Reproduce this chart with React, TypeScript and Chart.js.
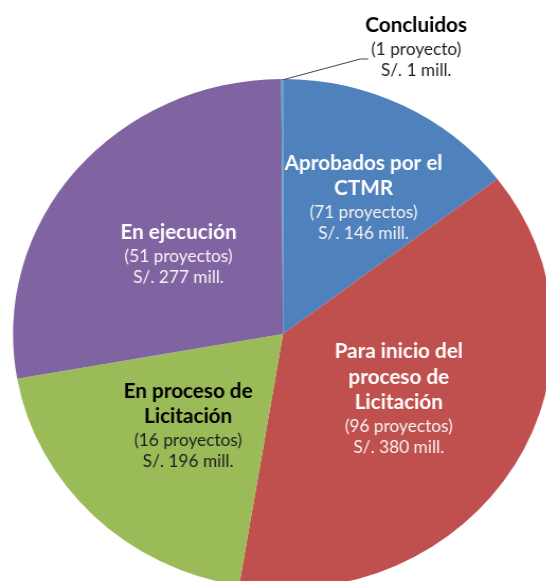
import React, { useEffect, useRef } from "react";
import { Chart, registerables } from "chart.js";

Chart.register(...registerables);

// ---- data ----
const categories = [
  "Aprobados por el CTMR",
  "Para inicio del proceso de Licitación",
  "En proceso de Licitación",
  "En ejecución",
  "Concluidos",
];
const titleLines = [
  ["Aprobados por el", "CTMR"],
  ["Para inicio del", "proceso de", "Licitación"],
  ["En proceso de", "Licitación"],
  ["En ejecución"],
  ["Concluidos"],
];
const projectCounts = [71, 96, 16, 51, 1];
const amounts = [146, 380, 196, 277, 1]; // S/. millones
const projectWord = ["proyectos", "proyectos", "proyectos", "proyectos", "proyecto"];

// ---- styles ----
const sliceColors = ["#4F81BD", "#C0504D", "#9BBB59", "#8064A2", "#4BACC6"];
const titleColors = ["#ffffff", "#ffffff", "#000000", "#ffffff", "#000000"];
const detailColors = ["#f4f4f4", "#f4f4f4", "#1e1e1e", "#f4f4f4", "#1e1e1e"];
const radialFraction = [0.61, 0.5, 0.5, 0.5, -1]; // -1 => outside label
const angleShiftDeg = [3, 0, 0, -0.5, 0];
const verticalNudge = [0, 0, 1.5, 2, 2.5];

const SX = 270 / 255; // horizontal stretch (elliptical pie)
const CW = 540;
const CH = 600;
const FONT = "Lato, 'Noto Sans', sans-serif";
const TITLE_SIZE = 20.7;
const DETAIL_SIZE = 17.3;

const labelPlugin = {
  id: "sliceLabels",
  afterDatasetsDraw(chart: any) {
    const ctx = chart.ctx as CanvasRenderingContext2D;
    const meta = chart.getDatasetMeta(0);
    meta.data.forEach((arc: any, i: number) => {
      const p = arc.getProps(["x", "y", "startAngle", "endAngle", "outerRadius"], true);
      const mid = (p.startAngle + p.endAngle) / 2 + (angleShiftDeg[i] * Math.PI) / 180;
      let ax: number;
      let ay: number;
      if (radialFraction[i] > 0) {
        ax = p.x + Math.cos(mid) * p.outerRadius * radialFraction[i];
        ay = p.y + Math.sin(mid) * p.outerRadius * radialFraction[i];
      } else {
        // outside label with leader line
        const ex = p.x + Math.cos(mid) * p.outerRadius;
        const ey = p.y + Math.sin(mid) * p.outerRadius + 1;
        const elbowX = ex + 78 / SX;
        const elbowY = ey - 21;
        ctx.save();
        ctx.strokeStyle = "#404040";
        ctx.lineWidth = 1;
        ctx.beginPath();
        ctx.moveTo(ex, ey);
        ctx.lineTo(elbowX, elbowY);
        ctx.lineTo(elbowX + 8 / SX, elbowY);
        ctx.stroke();
        ctx.restore();
        ax = ex + 134 / SX;
        ay = ey - 35;
      }
      ay += verticalNudge[i];
      const lines: { text: string; bold: boolean }[] = [];
      titleLines[i].forEach((t) => lines.push({ text: t, bold: true }));
      lines.push({ text: `(${projectCounts[i]} ${projectWord[i]})`, bold: false });
      lines.push({ text: `S/. ${amounts[i]} mill.`, bold: false });
      const ys: number[] = [];
      let y = 0;
      lines.forEach((ln, k) => {
        if (k > 0) {
          const prev = lines[k - 1];
          if (prev.bold && ln.bold) y += 25.5;
          else if (prev.bold && !ln.bold) y += 24;
          else y += 21;
        }
        ys.push(y);
      });
      const total = ys[ys.length - 1];
      ctx.save();
      ctx.translate(ax, ay);
      ctx.scale(1 / SX, 1);
      ctx.textAlign = "center";
      ctx.textBaseline = "middle";
      lines.forEach((ln, k) => {
        ctx.font = ln.bold ? `bold ${TITLE_SIZE}px ${FONT}` : `${DETAIL_SIZE}px ${FONT}`;
        ctx.fillStyle = ln.bold ? titleColors[i] : detailColors[i];
        ctx.fillText(ln.text, 0, ys[k] - total / 2);
      });
      ctx.restore();
    });
  },
};

export default function App() {
  const ref = useRef<HTMLCanvasElement | null>(null);
  useEffect(() => {
    if (!ref.current) return;
    const cx = 283 / SX;
    const chart = new Chart(ref.current, {
      type: "pie",
      data: {
        labels: categories,
        datasets: [
          {
            data: amounts,
            backgroundColor: sliceColors,
            borderWidth: 0,
            hoverOffset: 0,
          },
        ],
      },
      options: {
        responsive: false,
        maintainAspectRatio: false,
        animation: false,
        devicePixelRatio: 1,
        layout: {
          padding: { left: cx - 255, right: CW - cx - 255, top: 79, bottom: CH - 589 },
        },
        plugins: {
          legend: { display: false },
          tooltip: { enabled: false },
        },
      },
      plugins: [labelPlugin],
    });
    return () => chart.destroy();
  }, []);
  return (
    <div
      style={{
        position: "fixed",
        left: 0,
        top: 0,
        width: 546,
        height: 581,
        overflow: "hidden",
        background: "#ffffff",
      }}
    >
      <div
        style={{
          position: "absolute",
          left: 0,
          top: 0,
          width: CW,
          height: CH,
          transform: `scaleX(${SX})`,
          transformOrigin: "0 0",
        }}
      >
        <canvas ref={ref} width={CW} height={CH} style={{ width: CW, height: CH }} />
      </div>
    </div>
  );
}
